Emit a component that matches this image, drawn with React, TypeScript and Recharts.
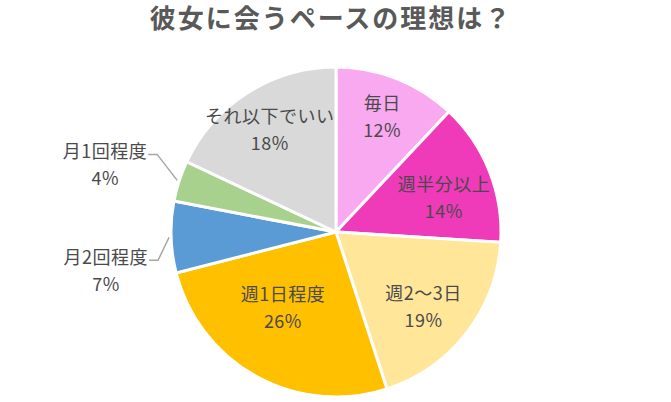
import { Cell, Pie, PieChart } from 'recharts';

const names = ['毎日', '週半分以上', '週2〜3日', '週1日程度', '月2回程度', '月1回程度', 'それ以下でいい'];
const shares = [12, 14, 19, 26, 7, 4, 18];
const colors = ['#F8A9F0', '#EF3ABA', '#FFE699', '#FFC000', '#5B9BD5', '#A9D18E', '#D9D9D9'];

// label placement: radius ratio for inside labels, 0 = outside with leader line
const labelRadius = [0.76, 0.69, 0.69, 0.55, 0, 0, 0.75];
const labelAngleShift = [0, -3, -2, -7, 0, 0, 0];
const elbowOffset: Record<number, [number, number]> = { 4: [-11, 23], 5: [-20, -26] };

const data = names.map((name, i) => ({ name, value: shares[i] }));

const RAD = Math.PI / 180;
const textStyle = {
  fontFamily: '"Noto Sans CJK JP", "Noto Sans", sans-serif',
  fontSize: 18,
  letterSpacing: 0.5,
  fill: '#4A4A4A',
};

function renderLabel(props: any) {
  const { cx, cy, midAngle, outerRadius, index, value, name } = props;
  const ratio = labelRadius[index];
  if (ratio > 0) {
    const a = (midAngle + labelAngleShift[index]) * RAD;
    const x = cx + outerRadius * ratio * Math.cos(-a);
    const y = cy + outerRadius * ratio * Math.sin(-a);
    return (
      <g key={`lbl-${index}`}>
        <text x={x} y={y - 13} textAnchor="middle" dominantBaseline="central" style={textStyle}>
          {name}
        </text>
        <text x={x} y={y + 14} textAnchor="middle" dominantBaseline="central" style={textStyle}>
          {value}%
        </text>
      </g>
    );
  }
  const a = midAngle * RAD;
  const ex = cx + (outerRadius + 2) * Math.cos(-a);
  const ey = cy + (outerRadius + 2) * Math.sin(-a);
  const [ox, oy] = elbowOffset[index];
  const kx = ex + ox;
  const ky = ey + oy;
  const lx = kx - 9;
  return (
    <g key={`lbl-${index}`}>
      <polyline points={`${ex},${ey} ${kx},${ky} ${lx},${ky}`} fill="none" stroke="#A6A6A6" strokeWidth={1.5} />
      <text x={lx - 1} y={ky - 4} textAnchor="end" dominantBaseline="central" style={textStyle}>
        {name}
      </text>
      <text x={lx - 43} y={ky + 23} textAnchor="middle" dominantBaseline="central" style={textStyle}>
        {value}%
      </text>
    </g>
  );
}

export default function App() {
  return (
    <div style={{ position: 'absolute', left: 0, top: 0, width: 671, height: 402, background: '#fff' }}>
      <PieChart width={671} height={402} margin={{ top: 0, right: 0, bottom: 0, left: 0 }}>
        <Pie
          data={data}
          dataKey="value"
          nameKey="name"
          cx={336}
          cy={232}
          outerRadius={165}
          startAngle={90}
          endAngle={-270}
          stroke="#FFFFFF"
          strokeWidth={3}
          labelLine={false}
          label={renderLabel}
          isAnimationActive={false}
        >
          {data.map((d, i) => (
            <Cell key={d.name} fill={colors[i]} />
          ))}
        </Pie>
      </PieChart>
      <div
        style={{
          position: 'absolute',
          left: 0,
          top: 4,
          width: 662,
          textAlign: 'center',
          fontFamily: '"Noto Sans CJK JP", sans-serif',
          fontWeight: 700,
          fontSize: 26,
          letterSpacing: 2,
          lineHeight: '26px',
          color: '#595959',
          whiteSpace: 'nowrap',
        }}
      >
        彼女に会うペースの理想は？
      </div>
    </div>
  );
}
